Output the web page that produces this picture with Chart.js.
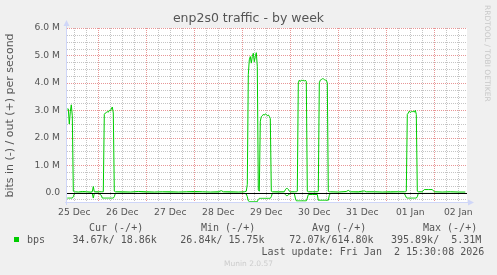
<!DOCTYPE html>
<html>
<head>
<meta charset="utf-8">
<script src="https://cdn.jsdelivr.net/npm/chart.js@4"></script>
<style>
  html, body { margin: 0; padding: 0; background: #F0F0F0; }
  #wrap { position: relative; width: 497px; height: 275px; overflow: hidden; }
  canvas { position: absolute; left: 0; top: 0; }
  .t { position: absolute; white-space: pre; font-family: "DejaVu Sans Mono", monospace; font-size: 10px; line-height: 12px; color: #555; }
  #sw { position: absolute; left: 14px; top: 237px; width: 5px; height: 5px; background: #00CC00; }
  #rrd { position: absolute; left: 483px; top: 5px; font-family: "DejaVu Sans", sans-serif; font-size: 7.5px; line-height: 9px; color: #C8C8C8; writing-mode: vertical-rl; white-space: pre; }
  #munin { position: absolute; left: 0; width: 497px; top: 259px; text-align: center; font-family: "DejaVu Sans", sans-serif; font-size: 7.5px; line-height: 10px; color: #CCCCCC; }
</style>
</head>
<body>
<div id="wrap">
  <canvas id="c" width="497" height="275"></canvas>
  <span class="t" style="left:89px; top:222px;">Cur (-/+)</span>
  <span class="t" style="left:201px; top:222px;">Min (-/+)</span>
  <span class="t" style="left:312px; top:222px;">Avg (-/+)</span>
  <span class="t" style="left:423px; top:222px;">Max (-/+)</span>
  <div id="sw"></div>
  <span class="t" style="left:27px; top:234px;">bps</span>
  <span class="t" style="left:66.5px; top:234px;"> 34.67k/ 18.86k</span>
  <span class="t" style="left:174.3px; top:234px;"> 26.84k/ 15.75k</span>
  <span class="t" style="left:283.3px; top:234px;"> 72.07k/614.80k</span>
  <span class="t" style="left:391px; top:234px;">395.89k/  5.31M</span>
  <span class="t" style="left:261.5px; top:246px;">Last update: Fri Jan  2 15:30:08 2026</span>
  <div id="rrd">RRDTOOL / TOBI OETIKER</div>
  <div id="munin">Munin 2.0.57</div>
</div>
<script>
// ---- data (time in hours since 25 Dec 00:00, values in Mbit/s) ----
const hours = [
  8.5, 9.0, 9.5, 10.0, 10.5, 11.0, 11.5, 12.0, 12.5, 14, 16, 18, 20, 21, 21.5, 22, 24,
  25.5, 26, 26.5, 27, 27.5, 28, 28.5, 29, 29.5, 30, 30.5, 31, 31.5, 32, 32.5,
  36, 40, 44, 48, 52, 56, 60, 64, 68, 72, 76, 80, 84, 85.5, 86.5, 90, 94, 97,
  98, 98.5, 99, 99.5, 100, 100.5, 101, 101.5, 102, 102.5, 103, 103.5, 104,
  104.5, 105, 105.5, 106, 106.5, 107, 107.5, 108, 108.5, 109, 109.5, 110, 110.5, 111,
  114, 117, 117.5, 118, 118.5, 119, 119.5, 120, 122,
  122.5, 123, 123.5, 124, 124.5, 125, 125.5, 126, 126.5, 127, 127.5, 128, 128.5,
  129, 131, 133.5, 134, 134.5, 135, 135.5, 136, 136.5, 137, 137.5, 138, 138.5, 139, 139.5, 140,
  144, 148, 149, 150, 154, 157, 158, 162, 166, 170, 174, 177,
  177.5, 178, 178.5, 179, 179.5, 180, 180.5, 181, 181.5, 182, 182.5, 183, 183.5, 184,
  186, 187, 189, 191, 192, 196, 200, 204, 207.5
];
const outMbit = [
  3.05, 3.05, 2.5, 2.95, 3.2, 2.8, 0.05, 0.03, 0.03, 0.02, 0.04, 0.03, 0.02, 0.03, 0.22, 0.03, 0.03,
  0.03, 0.03, 0.03, 2.85, 2.9, 2.92, 2.95, 2.93, 3.0, 2.98, 3.05, 3.12, 2.9, 0.05, 0.03,
  0.03, 0.02, 0.04, 0.03, 0.02, 0.03, 0.03, 0.02, 0.03, 0.04, 0.03, 0.02, 0.03, 0.07, 0.03, 0.03, 0.02, 0.03,
  0.05, 0.3, 4.3, 4.84, 4.96, 4.72, 4.96, 5.08, 4.77, 4.96, 5.1, 4.6, 0.1,
  0.05, 2.6, 2.77, 2.8, 2.85, 2.82, 2.87, 2.85, 2.8, 2.83, 2.78, 2.7, 0.05, 0.03,
  0.03, 0.03, 0.1, 0.15, 0.15, 0.12, 0.05, 0.03, 0.03,
  0.03, 0.03, 0.05, 4.0, 4.1, 4.05, 4.1, 4.08, 4.1, 4.06, 4.1, 4.05, 0.05,
  0.03, 0.03, 0.03, 0.05, 4.0, 4.1, 4.12, 4.15, 4.15, 4.12, 4.1, 4.1, 4.0, 0.05, 0.03, 0.03,
  0.02, 0.04, 0.08, 0.03, 0.03, 0.06, 0.03, 0.03, 0.02, 0.03, 0.03, 0.03,
  0.03, 0.05, 2.85, 2.9, 2.97, 2.92, 2.95, 2.95, 2.97, 2.93, 3.0, 2.85, 0.05, 0.03,
  0.03, 0.11, 0.11, 0.11, 0.03, 0.02, 0.03, 0.02, 0.019
];
const inMbit = [
  0.2, 0.2, 0.2, 0.2, 0.2, 0.2, 0.15, 0.05, 0.03, 0.03, 0.02, 0.03, 0.02, 0.03, 0.2, 0.03, 0.02,
  0.1, 0.2, 0.2, 0.2, 0.2, 0.2, 0.2, 0.2, 0.2, 0.2, 0.2, 0.2, 0.2, 0.15, 0.03,
  0.02, 0.03, 0.03, 0.02, 0.03, 0.03, 0.02, 0.03, 0.03, 0.02, 0.03, 0.03, 0.02, 0.03, 0.03, 0.02, 0.03, 0.03,
  0.05, 0.15, 0.3, 0.33, 0.33, 0.33, 0.33, 0.33, 0.33, 0.33, 0.33, 0.33, 0.25,
  0.21, 0.21, 0.21, 0.21, 0.21, 0.21, 0.21, 0.21, 0.21, 0.21, 0.21, 0.21, 0.15, 0.03,
  0.02, 0.03, 0.07, 0.11, 0.11, 0.09, 0.05, 0.03, 0.03,
  0.2, 0.3, 0.3, 0.3, 0.3, 0.3, 0.3, 0.3, 0.3, 0.3, 0.3, 0.3, 0.2,
  0.07, 0.07, 0.07, 0.28, 0.28, 0.28, 0.28, 0.28, 0.28, 0.28, 0.28, 0.28, 0.28, 0.28, 0.1, 0.03,
  0.03, 0.03, 0.03, 0.03, 0.02, 0.03, 0.03, 0.03, 0.03, 0.02, 0.03, 0.03,
  0.1, 0.18, 0.2, 0.2, 0.2, 0.2, 0.2, 0.2, 0.2, 0.2, 0.2, 0.2, 0.15, 0.03,
  0.03, 0.03, 0.03, 0.03, 0.03, 0.03, 0.03, 0.03, 0.035
];
const dayLabels = ['25 Dec', '26 Dec', '27 Dec', '28 Dec', '29 Dec', '30 Dec', '31 Dec', '01 Jan', '02 Jan'];
const yTickValues = [0, 1, 2, 3, 4, 5, 6];
const yTickLabels = ['0.0', '1.0 M', '2.0 M', '3.0 M', '4.0 M', '5.0 M', '6.0 M'];
const X_MIN = 8.35, X_MAX = 208.35, Y_MIN = -0.38, Y_MAX = 6.0;

const GREEN = '#00CC00';
const MINOR = 'rgb(196,196,196)';
const MAJOR = 'rgb(232,150,150)';
const AXIS = '#CFD6F8';
const FONT = '#555555';

const isMajorX = (v) => v % 24 === 0;
const isMajorY = (v) => Number.isInteger(v);

const muninPlugin = {
  id: 'munin',
  beforeDraw(chart) {
    const { ctx, chartArea: a } = chart;
    ctx.save();
    ctx.fillStyle = '#FFFFFF';
    ctx.fillRect(a.left, a.top, a.right - a.left, a.bottom - a.top);
    ctx.restore();
  },
  beforeDatasetsDraw(chart) {
    const { ctx, chartArea: a, scales } = chart;
    ctx.save();
    ctx.lineWidth = 1;
    ctx.setLineDash([1, 1]);
    for (const pass of [false, true]) {
      ctx.strokeStyle = pass ? MAJOR : MINOR;
      ctx.beginPath();
      for (const t of scales.x.ticks) {
        if (isMajorX(t.value) !== pass) continue;
        const px = Math.round(scales.x.getPixelForValue(t.value)) + 0.5;
        ctx.moveTo(px, a.top);
        ctx.lineTo(px, a.bottom);
      }
      for (const t of scales.y.ticks) {
        if (isMajorY(t.value) !== pass) continue;
        const py = Math.round(scales.y.getPixelForValue(t.value)) + 0.5;
        ctx.moveTo(a.left, py);
        ctx.lineTo(a.right, py);
      }
      ctx.stroke();
    }
    ctx.restore();
  },
  afterDatasetsDraw(chart) {
    const { ctx, chartArea: a, scales } = chart;
    const y0 = Math.round(scales.y.getPixelForValue(0)) + 0.5;
    ctx.save();
    ctx.strokeStyle = '#000000';
    ctx.lineWidth = 1;
    ctx.beginPath();
    ctx.moveTo(a.left, y0);
    ctx.lineTo(a.right, y0);
    ctx.stroke();
    // axes with arrows
    ctx.strokeStyle = AXIS;
    ctx.fillStyle = AXIS;
    const lx = Math.round(a.left) - 0.5;
    const by = Math.round(a.bottom) - 0.5;
    ctx.beginPath();
    ctx.moveTo(lx, a.bottom + 2);
    ctx.lineTo(lx, a.top - 4);
    ctx.moveTo(a.left - 2, by);
    ctx.lineTo(a.right + 3, by);
    ctx.stroke();
    ctx.beginPath();
    ctx.moveTo(lx - 3, a.top - 2);
    ctx.lineTo(lx, a.top - 8);
    ctx.lineTo(lx + 3, a.top - 2);
    ctx.closePath();
    ctx.fill();
    ctx.beginPath();
    ctx.moveTo(a.right + 1, by - 3);
    ctx.lineTo(a.right + 7, by);
    ctx.lineTo(a.right + 1, by + 3);
    ctx.closePath();
    ctx.fill();
    ctx.restore();
  }
};

const lineStyle = { borderColor: GREEN, borderWidth: 1, pointRadius: 0, tension: 0, fill: false };

new Chart(document.getElementById('c'), {
  type: 'line',
  data: {
    datasets: [
      Object.assign({ label: 'bps in (-)', data: hours.map((h, i) => ({ x: h, y: -inMbit[i] })) }, lineStyle),
      Object.assign({ label: 'bps out (+)', data: hours.map((h, i) => ({ x: h, y: outMbit[i] })) }, lineStyle)
    ]
  },
  options: {
    responsive: false,
    animation: false,
    devicePixelRatio: 1,
    layout: { padding: { left: 0, right: 0, top: 0, bottom: 52 } },
    plugins: {
      legend: { display: false },
      tooltip: { enabled: false },
      title: {
        display: true,
        text: 'enp2s0 traffic - by week',
        color: FONT,
        font: { family: 'DejaVu Sans', size: 12.5, weight: 'normal', lineHeight: 1.2 },
        padding: { top: 11, bottom: 2 }
      }
    },
    scales: {
      x: {
        type: 'linear',
        min: X_MIN,
        max: X_MAX,
        afterBuildTicks(scale) {
          const t = [];
          for (let v = 12; v <= X_MAX; v += 6) t.push({ value: v });
          scale.ticks = t;
        },
        afterFit(scale) { scale.height = 20; },
        grid: { display: false, drawTicks: false },
        border: { display: false },
        ticks: {
          autoSkip: false,
          maxRotation: 0,
          padding: 4,
          color: FONT,
          font: { family: 'DejaVu Sans', size: 9.2 },
          callback: (v) => (v % 24 === 12) ? dayLabels[(v - 12) / 24] : ''
        }
      },
      y: {
        min: Y_MIN,
        max: Y_MAX,
        afterBuildTicks(scale) {
          const t = [];
          for (let v = -0.25; v <= Y_MAX + 1e-9; v += 0.25) t.push({ value: Math.round(v * 100) / 100 });
          scale.ticks = t;
        },
        afterFit(scale) { scale.width = 67; },
        grid: { display: false, drawTicks: false },
        border: { display: false },
        ticks: {
          autoSkip: false,
          padding: 7,
          color: FONT,
          font: { family: 'DejaVu Sans', size: 9.2 },
          callback: (v) => { const k = yTickValues.indexOf(v); return k >= 0 ? yTickLabels[k] : ''; }
        },
        title: {
          display: true,
          text: 'bits in (-) / out (+) per second',
          color: FONT,
          font: { family: 'DejaVu Sans', size: 11, lineHeight: 1.2 },
          padding: { top: 4, bottom: 0 }
        }
      },
      yRight: {
        position: 'right',
        min: Y_MIN,
        max: Y_MAX,
        afterFit(scale) { scale.width = 30; },
        grid: { display: false, drawTicks: false },
        border: { display: false },
        ticks: { display: false }
      }
    }
  },
  plugins: [muninPlugin]
});
</script>
</body>
</html>
